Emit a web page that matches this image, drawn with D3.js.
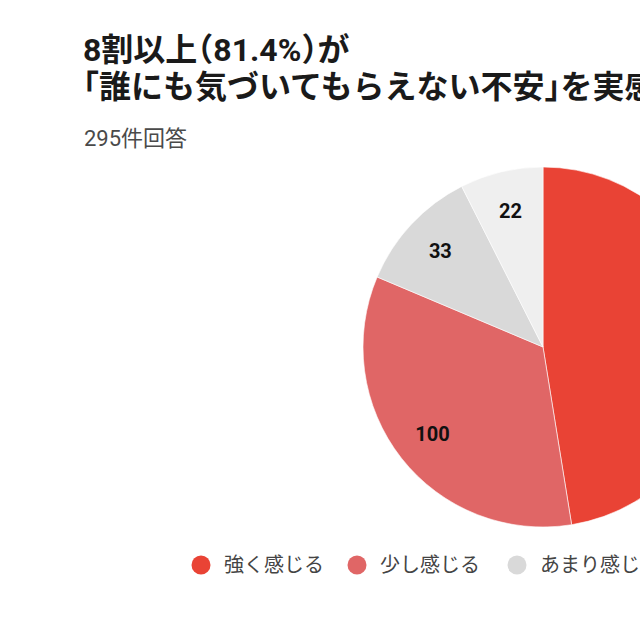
<!DOCTYPE html>
<html>
<head>
<meta charset="utf-8">
<script src="https://cdn.jsdelivr.net/npm/d3@7"></script>
<style>
  html, body { margin: 0; padding: 0; background: #fff; overflow: hidden; }
  svg { display: block; font-family: Roboto, "Noto Sans CJK JP", sans-serif; }
</style>
</head>
<body>
<svg id="chart" width="640" height="640"></svg>
<script>
// Data
const categories = ['強く感じる', '少し感じる', 'あまり感じない', '全く感じない'];
const values = [140, 100, 33, 22];
const colors = ['#e94335', '#e06666', '#d9d9d9', '#efefef'];
const titleLines = ['8割以上（81.4%）が', '「誰にも気づいてもらえない不安」を実感している'];
const subtitle = '295件回答';

const svg = d3.select('#chart');
const width = +svg.attr('width');
const height = +svg.attr('height');

svg.append('rect').attr('width', width).attr('height', height).attr('fill', '#fff');

// Title (half-width brackets like the original)
svg.selectAll('text.title')
  .data(titleLines)
  .join('text')
  .attr('class', 'title')
  .attr('x', 83)
  .attr('y', (d, i) => 61 + i * 37)
  .attr('font-size', 32)
  .attr('font-weight', 'bold')
  .attr('fill', '#1a1a1a')
  .style('font-feature-settings', '"halt"')
  .text(d => d);

svg.append('text')
  .attr('x', 84)
  .attr('y', 146)
  .attr('font-size', 22)
  .attr('fill', '#4a4a4a')
  .text(subtitle);

// Pie
const cx = 543, cy = 347, radius = 180;
const pie = d3.pie().sort(null).value(d => d);
const arc = d3.arc().innerRadius(0).outerRadius(radius);
const labelArc = d3.arc().innerRadius(radius * 0.78).outerRadius(radius * 0.78);
const color = d3.scaleOrdinal().domain(d3.range(values.length)).range(colors);

const g = svg.append('g').attr('transform', `translate(${cx},${cy})`);
const arcs = pie(values);

g.selectAll('path')
  .data(arcs)
  .join('path')
  .attr('d', arc)
  .attr('fill', (d, i) => color(i))
  .attr('stroke', '#fff')
  .attr('stroke-width', 0.6);

g.selectAll('text.val')
  .data(arcs)
  .join('text')
  .attr('class', 'val')
  .attr('transform', d => `translate(${labelArc.centroid(d)})`)
  .attr('text-anchor', 'middle')
  .attr('dy', '0.36em')
  .attr('font-size', 20)
  .attr('font-weight', 'bold')
  .attr('fill', '#111')
  .text(d => d.data);

// Legend
const legendX = [201, 357, 517, 690];
const legend = svg.append('g')
  .selectAll('g')
  .data(categories)
  .join('g')
  .attr('transform', (d, i) => `translate(${legendX[i]},565)`);

legend.append('circle')
  .attr('r', 9.5)
  .attr('fill', (d, i) => color(i));

legend.append('text')
  .attr('x', 23)
  .attr('dy', '0.36em')
  .attr('font-size', 20)
  .attr('fill', '#444')
  .text(d => d);
</script>
</body>
</html>
